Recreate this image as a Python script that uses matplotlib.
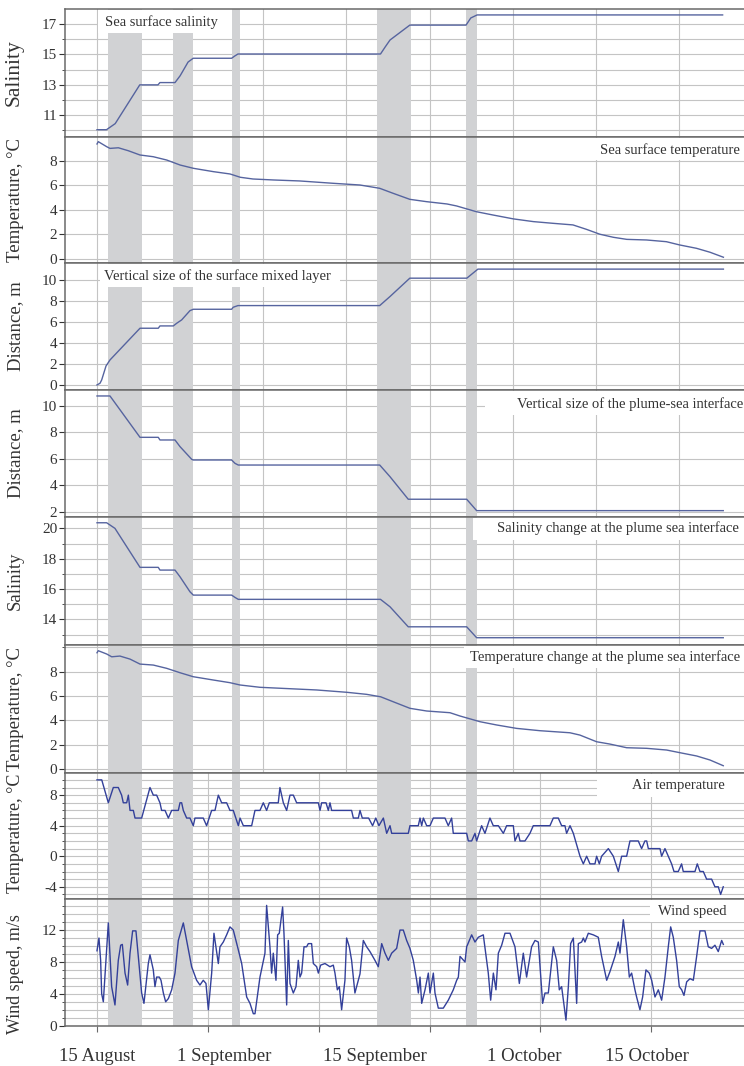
import numpy as np
import matplotlib
matplotlib.use("Agg")
import matplotlib.pyplot as plt
from matplotlib.patches import Rectangle
from matplotlib.ticker import FixedLocator, MultipleLocator, NullFormatter
from matplotlib.transforms import blended_transform_factory

plt.rcParams["font.family"] = ["Liberation Serif", "DejaVu Serif"]
plt.rcParams["axes.unicode_minus"] = False

# time axis: days counted from 15 August

# sea surface salinity
sss_day = [0, 1.2, 2.3, 5.4, 7.7, 7.95, 9.85, 10.5, 11.5, 12.15, 17.0, 17.4, 17.8,
           35.8, 36.4, 37.0, 39.5, 46.6, 47.2, 48.0, 79.0]
sss_val = [10.05, 10.05, 10.45, 13.0, 13.0, 13.15, 13.15, 13.6, 14.5, 14.75, 14.75, 14.9, 15.03,
           15.03, 15.5, 15.95, 16.93, 16.93, 17.4, 17.6, 17.6]

# sea surface temperature
sst_day = [0, 0.16, 1.22, 1.64, 2.7, 3.95, 5.43, 7.1, 8.8, 10.5, 12.2, 14.7, 16.8, 18.1,
           19.7, 22.3, 25.6, 29.8, 33.2, 35.7, 37.4, 39.5, 41.6, 44.2, 45.4, 47.9, 50.0,
           52.6, 55.1, 57.6, 60.1, 61.8, 63.5, 65.2, 66.9, 69.4, 71.9, 73.6, 75.7, 77.4, 79.1]
sst_val = [9.39, 9.58, 9.17, 9.03, 9.08, 8.84, 8.49, 8.35, 8.08, 7.67, 7.4, 7.13, 6.94, 6.67,
           6.53, 6.45, 6.37, 6.18, 6.04, 5.77, 5.36, 4.87, 4.68, 4.49, 4.33, 3.86, 3.59,
           3.27, 3.05, 2.91, 2.78, 2.42, 2.02, 1.77, 1.6, 1.55, 1.41, 1.14, 0.87, 0.55, 0.14]

# vertical size of the surface mixed layer, m
sml_day = [0, 0.38, 0.59, 1.14, 1.64, 5.43, 7.74, 7.95, 9.64, 10.06, 10.69, 11.74, 12.16,
           17.0, 17.2, 17.8, 35.7, 37.0, 39.5, 46.7, 48.1, 79.1]
sml_val = [0.03, 0.19, 0.5, 1.83, 2.4, 5.41, 5.41, 5.63, 5.63, 5.88, 6.2, 7.08, 7.21,
           7.21, 7.4, 7.56, 7.56, 8.42, 10.16, 10.16, 11.02, 11.02]

# vertical size of the plume-sea interface, m
psi_day = [0, 1.64, 5.43, 7.74, 7.95, 9.85, 10.48, 11.96, 12.16, 17.0, 17.42, 17.84,
           35.7, 37.0, 39.3, 46.68, 47.94, 79.08]
psi_val = [10.73, 10.73, 7.61, 7.61, 7.41, 7.41, 6.91, 5.95, 5.9, 5.9, 5.65, 5.52,
           5.52, 4.64, 2.94, 2.94, 2.08, 2.08]

# salinity change at the plume-sea interface
psal_day = [0, 1.22, 2.27, 5.43, 7.74, 7.95, 9.85, 10.48, 11.74, 12.16, 17.0, 17.42, 17.84,
            35.8, 37.0, 39.3, 46.68, 47.94, 79.08]
psal_val = [20.37, 20.37, 20.0, 17.43, 17.43, 17.25, 17.25, 16.81, 15.82, 15.6, 15.6, 15.45, 15.32,
            15.32, 14.83, 13.51, 13.51, 12.79, 12.79]

# temperature change at the plume-sea interface
ptmp_day = [0, 0.16, 1.22, 1.86, 2.9, 4.17, 5.43, 7.11, 8.8, 10.48, 12.16, 14.68, 16.79, 18.06,
            20.58, 23.52, 27.74, 31.53, 34.05, 35.82, 37.41, 39.52, 41.63, 44.57, 45.83, 48.36,
            50.47, 52.99, 55.93, 59.72, 60.98, 63.09, 64.77, 66.88, 69.41, 71.93, 73.61, 75.72,
            77.4, 79.08]
ptmp_val = [9.56, 9.73, 9.46, 9.23, 9.29, 9.04, 8.63, 8.55, 8.28, 7.92, 7.59, 7.32, 7.1, 6.91,
            6.72, 6.63, 6.5, 6.31, 6.14, 5.94, 5.53, 4.99, 4.77, 4.63, 4.36, 3.89,
            3.62, 3.34, 3.15, 2.98, 2.79, 2.24, 2.05, 1.75, 1.7, 1.56, 1.34, 1.07,
            0.74, 0.27]

# air temperature, deg C
air_day = [0, 0.6, 1.43, 2.06, 2.69, 3.11, 3.32, 3.75, 3.96, 4.17, 4.59, 4.8, 5.64, 6.69, 7.11,
           7.53, 7.95, 8.16, 8.59, 9.01, 9.43, 10.27, 10.48, 10.69, 10.9, 11.32, 11.74, 12.16,
           12.37, 13.42, 13.84, 14.48, 14.9, 15.32, 15.74, 16.37, 16.79, 17.21, 17.85, 18.06,
           18.48, 19.53, 19.95, 20.58, 21.0, 21.42, 21.76, 22.89, 23.1, 23.53, 23.95, 24.37,
           24.79, 25.21, 27.95, 28.16, 28.37, 28.92, 29.21, 29.42, 29.63, 32.15, 32.37, 33.0,
           33.21, 33.5, 34.3, 34.8, 35.2, 35.6, 36.16, 36.58, 37.0, 37.21, 39.31, 39.52, 40.57,
           40.79, 41.0, 41.21, 41.63, 42.05, 42.47, 43.94, 44.36, 44.78, 44.99, 46.68, 46.89,
           47.31, 47.73, 47.94, 48.57, 48.99, 49.62, 50.04, 50.68, 51.31, 51.73, 52.57, 52.78,
           53.2, 53.41, 54.04, 54.67, 55.09, 57.2, 57.62, 58.25, 58.67, 59.09, 59.3, 59.73,
           60.15, 60.99, 61.41, 61.83, 62.25, 62.88, 63.09, 63.43, 63.72, 64.57, 65.2, 65.83,
           66.25, 66.88, 67.3, 68.35, 68.77, 69.19, 69.41, 69.62, 70.67, 71.09, 71.3, 71.72,
           72.56, 72.86, 73.4, 73.82, 74.03, 75.51, 75.8, 76.14, 76.56, 76.98, 77.61, 78.03,
           78.45, 78.75, 79.08]
air_val = [10, 10, 7, 9, 9, 8, 7, 7, 8, 6, 6, 5, 5, 9, 8,
           8, 7, 6, 6, 5, 6, 6, 7, 7, 6, 5, 5, 4,
           5, 5, 4, 6, 6, 8, 7, 7, 6, 6, 4, 5,
           4, 4, 6, 6, 7, 6, 7, 7, 9, 7, 6, 8,
           8, 7, 7, 6, 7, 7, 6, 7, 6, 6, 5, 5,
           6, 5, 5, 4, 5, 4, 5, 3, 4, 3, 3, 4, 4,
           5, 4, 5, 4, 4, 5, 5, 4, 5, 3, 3, 2,
           2, 3, 2, 4, 3, 5, 4, 4, 3, 4, 4, 2,
           3, 2, 2, 3, 4, 4, 5, 5, 4, 4, 3, 4,
           3, 0, -1, 0, -1, -1, 0, -1, 0, 1, 0, -2,
           0, 0, 2, 2, 1, 2, 2, 1, 1, 1, 0, 1,
           -1, -2, -2, -1, -2, -2, -1, -2, -2, -3, -3, -4,
           -4, -5, -4]

# wind speed, m/s
wind_day = [0.0, 0.25, 0.46, 0.59, 0.8, 1.43, 1.85, 2.27, 2.69, 2.99, 3.2, 3.54, 3.87, 4.17,
            4.5, 4.92, 5.64, 5.93, 6.48, 6.69, 7.11, 7.32, 7.53, 7.87, 8.08, 8.38, 8.67, 9.01,
            9.43, 9.85, 10.27, 10.9, 11.32, 11.95, 12.58, 13.0, 13.42, 13.76, 14.06, 14.48,
            14.77, 15.32, 15.53, 15.95, 16.37, 16.79, 17.21, 17.85, 18.27, 18.9, 19.32, 19.74,
            19.95, 20.58, 21.21, 21.42, 21.84, 22.05, 22.26, 22.6, 22.81, 23.02, 23.44, 23.61,
            23.95, 24.16, 24.37, 24.79, 25.13, 25.42, 25.63, 25.84, 26.14, 26.47, 26.68, 27.1,
            27.32, 27.74, 27.95, 28.24, 28.79, 29.42, 29.84, 30.05, 30.35, 30.6, 30.89, 31.31,
            31.52, 31.86, 32.15, 32.57, 33.21, 33.63, 34.05, 34.47, 35.1, 35.52, 35.95, 36.37,
            36.79, 37.21, 37.84, 38.26, 38.68, 39.1, 39.52, 39.94, 40.37, 40.58, 40.79, 41.0,
            41.42, 41.84, 42.05, 42.47, 42.68, 43.1, 43.73, 44.36, 44.99, 45.42, 45.63, 45.84,
            46.47, 46.68, 47.31, 47.73, 48.15, 48.78, 49.41, 49.71, 50.05, 50.38, 50.68, 51.1,
            51.52, 52.15, 52.78, 53.33, 53.83, 54.25, 54.88, 55.31, 55.73, 56.27, 56.57, 56.99,
            57.62, 58.04, 58.38, 58.67, 59.22, 59.52, 59.81, 60.15, 60.57, 60.78, 61.2, 61.41,
            61.62, 62.04, 62.67, 63.3, 63.72, 64.36, 64.78, 65.41, 65.83, 66.04, 66.46, 66.88,
            67.22, 67.51, 67.93, 68.14, 68.56, 68.9, 69.32, 69.74, 70.04, 70.46, 70.88, 71.3,
            71.72, 72.14, 72.44, 72.77, 73.19, 73.53, 73.83, 74.12, 74.46, 74.88, 75.3, 75.72,
            76.14, 76.77, 77.19, 77.61, 78.03, 78.45, 78.88, 79.09]
wind_val = [9.4, 11.0, 8.2, 4.0, 3.0, 12.9, 4.9, 2.6, 8.2, 10.1, 10.2, 6.6, 5.1, 9.1,
            11.9, 11.9, 4.1, 2.8, 7.8, 8.9, 7.0, 4.9, 6.1, 6.1, 5.7, 4.1, 3.0, 3.4,
            4.5, 6.6, 10.7, 12.9, 10.7, 7.4, 5.7, 5.1, 5.7, 5.3, 2.0, 6.6,
            11.6, 7.8, 9.9, 10.5, 11.4, 12.4, 12.0, 9.5, 7.8, 3.6, 2.8, 1.5,
            1.5, 6.1, 9.1, 15.1, 9.9, 6.6, 9.1, 5.7, 11.4, 11.6, 14.9, 11.6,
            2.6, 10.7, 5.3, 4.1, 4.9, 8.2, 6.1, 6.6, 9.9, 9.9, 10.3, 10.3,
            7.8, 7.4, 6.6, 7.6, 7.8, 7.4, 7.6, 6.6, 4.5, 4.9, 2.0, 5.7,
            11.0, 9.9, 8.2, 4.1, 6.5, 10.7, 9.9, 9.3, 8.2, 7.4, 10.3, 9.1,
            8.2, 9.1, 9.7, 12.0, 12.0, 10.7, 9.7, 8.2, 5.7, 4.1, 6.1, 2.8,
            4.5, 6.6, 4.1, 6.6, 4.1, 2.2, 2.2, 3.2, 4.5, 5.7, 6.1, 8.7,
            8.0, 9.9, 11.4, 10.5, 11.1, 11.4, 6.6, 3.2, 6.6, 4.5, 9.1, 10.1,
            11.6, 11.6, 9.9, 5.3, 9.1, 6.1, 9.9, 10.7, 10.5, 2.8, 4.1, 4.1,
            9.9, 8.2, 4.5, 4.9, 0.7, 4.9, 10.3, 11.0, 2.8, 10.3, 10.5, 11.0,
            10.5, 11.6, 11.4, 11.1, 8.7, 5.7, 6.8, 8.7, 10.5, 9.1, 13.3, 9.9,
            6.1, 6.6, 4.5, 3.6, 2.0, 3.6, 7.0, 6.6, 5.7, 3.6, 4.5, 3.2,
            6.1, 9.9, 12.4, 11.1, 8.2, 4.9, 4.5, 3.8, 5.5, 5.9, 5.7, 8.7,
            11.9, 11.9, 9.9, 9.7, 10.1, 9.3, 10.7, 10.2]

# shaded periods, days
band_start = [1.43, 9.63, 17.08, 35.4, 46.55]
band_end = [5.64, 12.16, 18.02, 39.6, 48.02]

# bottom axis labels
date_labels = ["15 August", "1 September", "15 September", "1 October", "15 October"]
date_pos = [0, 16.0, 35.1, 54.0, 69.4]

TXT = "#333333"
GRID = "#c4c4c4"
FRAME = "#6a6a6a"
LINE = "#56649f"
LINE_DARK = "#33409a"

W, H = 744, 1066
edges = [9, 137, 263, 390, 517, 645, 773, 899, 1026]
x_left = 65
xlim = (-4.04, 81.7)

# (x, y, label, label size, label centre, ylim, major ticks, grid step, line color)
panels = [
    (sss_day, sss_val, "Salinity", 15.5, 0.5, (9.57, 17.99), [11, 13, 15, 17], 1, LINE),
    (sst_day, sst_val, "Temperature, °C", 13.5, 0.5, (-0.33, 9.96), [0, 2, 4, 6, 8], 2, LINE),
    (sml_day, sml_val, "Distance, m", 13.5, 0.5, (-0.45, 11.6), [0, 2, 4, 6, 8, 10], 2, LINE),
    (psi_day, psi_val, "Distance, m", 13.5, 0.5, (1.6, 11.18), [2, 4, 6, 8, 10], 2, LINE),
    (psal_day, psal_val, "Salinity", 13.5, 0.5, (12.31, 20.75), [14, 16, 18, 20], 1, LINE),
    (ptmp_day, ptmp_val, "Temperature, °C", 13.5, 0.5, (-0.33, 10.2), [0, 2, 4, 6, 8], 2, LINE),
    (air_day, air_val, "Temperature, °C", 13, 0.52, (-5.6, 10.9), [-4, 0, 4, 8], 1, LINE_DARK),
    (wind_day, wind_val, "Wind speed, m/s", 13, 0.41, (-0.04, 15.9), [0, 4, 8, 12], 1, LINE_DARK),
]

# (text, x, y in axes units, alignment, white box x0, x1, box bottom)
titles = [
    ("Sea surface salinity", 8.1, 0.90, "center", 0.13, 17.05, 0.81),
    ("Sea surface temperature", 81.2, 0.897, "right", 62.6, 82, 0.817),
    ("Vertical size of the surface mixed layer", 15.2, 0.898, "center", 0.38, 30.7, 0.81),
    ("Vertical size of the plume-sea interface", 53.0, 0.89, "left", 49.0, 82, 0.80),
    ("Salinity change at the plume sea interface", 50.5, 0.914, "left", 47.5, 82, 0.82),
    ("Temperature change at the plume sea interface", 47.1, 0.906, "left", 46.4, 82, 0.82),
    ("Air temperature", 67.55, 0.897, "left", 63.1, 82, 0.81),
    ("Wind speed", 70.8, 0.90, "left", 69.8, 82, 0.82),
]

fig = plt.figure(figsize=(W / 100, H / 100), dpi=100)

for i, (xd, yd, ylab, lsize, lpos, ylim, major, step, col) in enumerate(panels):
    top, bot = edges[i], edges[i + 1]
    ax = fig.add_axes([x_left / W, 1 - bot / H, 1 - x_left / W, (bot - top) / H])
    ax.set_xlim(*xlim)
    ax.set_ylim(*ylim)

    lo = np.ceil(ylim[0] / step) * step
    ax.yaxis.set_major_locator(FixedLocator(major))
    ax.yaxis.set_minor_locator(FixedLocator(np.arange(lo, ylim[1] + 0.01, step)))
    ax.grid(True, axis="y", which="both", color=GRID, lw=0.8)

    bottom_group = i >= 6
    vstep = 14 if bottom_group else 10.5
    ax.xaxis.set_major_locator(MultipleLocator(vstep))
    ax.grid(True, axis="x", which="major", color=GRID, lw=0.8)
    ax.set_axisbelow(True)

    for s, e in zip(band_start, band_end):
        ax.axvspan(s, e, color="#d1d2d4", lw=0, zorder=1)

    ax.plot(xd, yd, color=col, lw=1.0, zorder=2)

    ax.spines["right"].set_visible(False)
    for side in ["left", "top", "bottom"]:
        ax.spines[side].set_color(FRAME)
        ax.spines[side].set_linewidth(1.1)

    ax.tick_params(axis="y", which="major", labelsize=11, colors=TXT, length=4,
                   width=0.8, pad=1.5)
    ax.tick_params(axis="y", which="minor", length=2, width=0.6, color=TXT)
    ax.set_ylabel(ylab, fontsize=lsize, color=TXT)
    ax.yaxis.set_label_coords(-0.0604, lpos)

    if i == len(panels) - 1:
        ax.xaxis.remove_overlapping_locs = False
        ax.xaxis.set_major_formatter(NullFormatter())
        ax.tick_params(axis="x", which="major", length=4, width=0.8, color=FRAME)
        ax.set_xticks(date_pos, date_labels, minor=True)
        ax.tick_params(axis="x", which="minor", length=0, labelsize=13.5,
                       labelcolor=TXT, pad=16)
    else:
        ax.tick_params(axis="x", which="both", length=0, labelbottom=False)

    text, tx, ty, ha, bx0, bx1, by0 = titles[i]
    trans = blended_transform_factory(ax.transData, ax.transAxes)
    ax.add_patch(Rectangle((bx0, by0), bx1 - bx0, 0.99 - by0, transform=trans,
                           facecolor="white", edgecolor="none", zorder=3))
    ax.text(tx, ty, text, transform=trans, ha=ha, va="center", fontsize=10.5,
            color=TXT, zorder=4)

fig.savefig("out.png", dpi=100)
